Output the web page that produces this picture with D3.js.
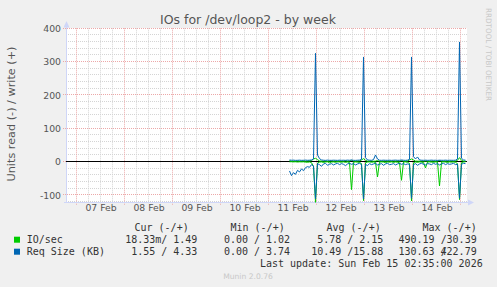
<!DOCTYPE html>
<html><head><meta charset="utf-8">
<script src="https://cdn.jsdelivr.net/npm/d3@7"></script>
<style>
html,body{margin:0;padding:0;background:#f0f0f0;}
svg{display:block}
text{white-space:pre}
</style>
</head><body>
<svg id="c" width="497" height="287"></svg>
<script>
// ---------- data ----------
const seriesStart = "2026-02-11T10:30:00Z";   // first sample (hourly samples)
const viewStart = "2026-02-06T19:00:00Z";
const viewEnd = "2026-02-15T03:00:00Z";
const firstDay = "2026-02-07T00:00:00Z";

// IO/sec read (drawn negative)
const ioRead = [0.5,0.3,0.8,0.4,1.2,0.6,0.9,0.5,1.5,2.0,1.0,3.0,15,
  122,
  4,1.5,0.8,2.5,1.0,0.6,3.5,1.2,0.8,2.0,0.5,1.0,1.8,0.7,2.2,1.0,3.0,84,2.0,0.8,1.5,2.5,6,
  117,
  3,1.2,0.8,2.0,1.0,2.5,46,1.5,0.8,1.2,3.0,0.9,1.6,0.7,2.4,1.0,1.8,3.5,56,1.2,0.8,2.0,5,
  118,
  3,1.0,2.2,0.8,1.5,2.8,19,1.2,0.7,1.6,2.0,0.9,1.4,73,1.8,0.6,1.2,2.5,0.8,1.6,1.0,2.2,6,
  114,
  3,1.0,0.5];
// IO/sec write (drawn positive)
const ioWrite = [3,1.2,1.5,1.0,1.8,1.2,1.4,2.0,1.1,1.6,2.5,3.0,8,
  10,
  6,2.0,1.5,1.2,1.8,1.0,1.4,2.2,1.3,1.5,1.1,1.9,1.2,1.6,2.4,1.3,1.5,4,1.6,1.2,1.8,2.0,5,
  9,
  4,1.5,1.3,1.8,1.2,1.6,3,1.4,1.2,1.7,1.3,1.5,1.9,1.1,1.6,1.4,1.8,1.2,3,1.5,1.3,1.7,5,
  8,
  5,1.6,1.4,1.2,1.8,1.3,2,1.5,1.2,1.6,1.4,1.3,1.7,3,1.5,1.2,1.6,1.4,1.3,1.8,1.2,1.5,4,
  12,
  4,1.6,1.5];
// Req Size read (drawn negative)
const sizeRead = [28,42,33,38,26,31,22,27,18,15,17,9,13,
  112,
  6,9,14,7,5,11,8,6,10,7,5,9,6,8,12,7,5,8,6,10,7,5,9,
  112,
  8,12,6,9,7,5,10,8,6,11,7,5,9,8,6,10,7,5,8,6,9,7,8,
  110,
  9,6,11,7,5,8,10,6,7,9,5,8,6,10,7,5,9,6,8,7,5,9,8,
  110,
  8,5,6];
// Req Size write (drawn positive)
const sizeWrite = [5,4.2,4.5,3.8,4.0,4.4,3.9,4.1,4.6,4.0,4.3,5,8,
  325,
  20,9,5,4.2,3.8,4.5,4.0,3.9,4.3,4.1,3.8,4.4,4.0,4.2,3.9,4.5,4.1,5,4.0,3.8,4.2,4.6,7,
  314,
  12,5,4.3,4.0,6,20,8,4.2,3.9,4.4,4.1,4.0,4.3,3.8,4.2,4.5,4.0,4.1,5,4.2,3.9,4.4,7,
  314,
  15,8,14,5,4.2,4.0,4.4,3.9,4.1,4.5,4.0,4.2,3.8,4.3,4.1,4.0,4.4,3.9,4.2,4.1,4.0,4.3,8,
  359,
  10,5,4.3];

const xLabels = ["07 Feb","08 Feb","09 Feb","10 Feb","11 Feb","12 Feb","13 Feb","14 Feb"];
const yTicks = [-100,0,100,200,300,400];
const yTickLabels = ["-100","0","100","200","300","400"];
const yMinorStep = 20;

const legendNames = ["IO/sec","Req Size (KB)"];
const legendColors = ["#00cc00","#0066b3"];
const legendHeaders = ["Cur (-/+)","Min (-/+)","Avg (-/+)","Max (-/+)"];
const legendCur = ["18.33m/ 1.49","1.55 / 4.33"];
const legendMin = ["0.00 / 1.02","0.00 / 3.74"];
const legendAvg = ["5.78 / 2.15","10.49 /15.88"];
const legendMax = ["490.19 /30.39","130.63 /422.79"];
const title = "IOs for /dev/loop2 - by week";
const yLabel = "Units read (-) / write (+)";
const lastUpdate = "Last update: Sun Feb 15 02:35:00 2026";
const footer = "Munin 2.0.76";
const sideText = "RRDTOOL / TOBI OETIKER";

// ---------- layout ----------
const svg = d3.select("#c");
const W = 497, H = 287;
const L = 66.5, R = 466.5, T = 28.3, B = 202.3;
const parse = d3.utcParse("%Y-%m-%dT%H:%M:%SZ");
const t0 = parse(viewStart), t1 = parse(viewEnd);
const x = d3.scaleUtc().domain([t0, t1]).range([L, R]);
const y = d3.scaleLinear().domain([-122, 400]).range([B, T]);
const crisp = v => Math.floor(v) + 0.5;

svg.append("rect").attr("width", W).attr("height", H).attr("fill", "#f0f0f0");
svg.append("rect").attr("x", 66).attr("y", 28).attr("width", 401).attr("height", 174).attr("fill", "#ffffff");

const grid = svg.append("g");
// horizontal minor
const yMinor = d3.range(-120, 401, yMinorStep).filter(v => !yTicks.includes(v));
grid.selectAll(".hm").data(yMinor).join("line")
  .attr("x1", 66).attr("x2", 467)
  .attr("y1", d => crisp(y(d))).attr("y2", d => crisp(y(d)))
  .attr("stroke", "#d4d4d4").attr("stroke-dasharray", "1,1");
// vertical minor (6 h)
const sixH = d3.utcHour.every(6).range(t0, t1).filter(d => d.getUTCHours() !== 0);
grid.selectAll(".vm").data(sixH).join("line")
  .attr("x1", d => crisp(x(d))).attr("x2", d => crisp(x(d)))
  .attr("y1", T).attr("y2", 204)
  .attr("stroke", "#d4d4d4").attr("stroke-dasharray", "1,1");
// horizontal major
grid.selectAll(".hM").data(yTicks).join("line")
  .attr("x1", 63).attr("x2", 467)
  .attr("y1", d => crisp(y(d))).attr("y2", d => crisp(y(d)))
  .attr("stroke", "#eca8a8").attr("stroke-dasharray", "1,1");
// vertical major (midnight)
const days = d3.utcDay.range(t0, t1).filter(d => d > t0);
grid.selectAll(".vM").data(days).join("line")
  .attr("x1", d => crisp(x(d))).attr("x2", d => crisp(x(d)))
  .attr("y1", T).attr("y2", 205)
  .attr("stroke", "#eca8a8").attr("stroke-dasharray", "1,1");

// axes lines with arrows
const axisCol = "#cfd6f8";
svg.append("line").attr("x1", 66.5).attr("x2", 66.5).attr("y1", 203).attr("y2", 24).attr("stroke", axisCol);
svg.append("path").attr("d", "M63.5,27.5 L69.5,27.5 L66.5,21 Z").attr("fill", axisCol);
svg.append("line").attr("x1", 64).attr("x2", 469).attr("y1", 202.5).attr("y2", 202.5).attr("stroke", axisCol);
svg.append("path").attr("d", "M468,199.5 L468,205.5 L474,202.5 Z").attr("fill", axisCol);

// zero line
svg.append("line").attr("x1", 66).attr("x2", 467).attr("y1", crisp(y(0))).attr("y2", crisp(y(0)))
  .attr("stroke", "#000000");

// series
const s0 = parse(seriesStart);
const times = ioRead.map((_, i) => d3.utcHour.offset(s0, i));
const line = d3.line().x((d, i) => x(times[i])).y(d => y(d));
const plot = svg.append("g").attr("fill", "none").attr("stroke-width", 1).attr("stroke-linejoin", "round");
plot.append("path").attr("d", line(ioRead.map(v => -v))).attr("stroke", legendColors[0]);
plot.append("path").attr("d", line(ioWrite)).attr("stroke", legendColors[0]);
plot.append("path").attr("d", line(sizeRead.map(v => -v))).attr("stroke", legendColors[1]);
plot.append("path").attr("d", line(sizeWrite)).attr("stroke", legendColors[1]);

// y tick labels
const yAx = svg.append("g").attr("transform", "translate(61,0)")
  .call(d3.axisLeft(y).tickValues(yTicks).tickSize(0).tickPadding(0)
    .tickFormat((d, i) => yTickLabels[i]));
yAx.select(".domain").remove();
yAx.selectAll("text").attr("font-family", "DejaVu Sans").attr("font-size", 9.3)
  .attr("fill", "#555").attr("dy", "0.36em");

// x tick labels (at noon)
const noon = xLabels.map((_, i) => d3.utcHour.offset(parse(firstDay), 12 + 24 * i));
const xAx = svg.append("g").attr("transform", "translate(0,204)")
  .call(d3.axisBottom(x).tickValues(noon).tickSize(0).tickPadding(0)
    .tickFormat((d, i) => xLabels[i]));
xAx.select(".domain").remove();
xAx.selectAll("text").attr("font-family", "DejaVu Sans").attr("font-size", 9.3)
  .attr("fill", "#555").attr("dy", "0.71em");

// title
svg.append("text").attr("x", 248).attr("y", 23.5).attr("text-anchor", "middle")
  .attr("font-family", "DejaVu Sans").attr("font-size", 12.5).attr("fill", "#555").text(title);
// y label
svg.append("text").attr("transform", "translate(14.5,114) rotate(-90)").attr("text-anchor", "middle")
  .attr("font-family", "DejaVu Sans").attr("font-size", 10.5).attr("fill", "#555")
  .attr("textLength", 135).attr("lengthAdjust", "spacingAndGlyphs").text(yLabel);
// side text
svg.append("text").attr("transform", "translate(485.5,8) rotate(90)")
  .attr("font-family", "DejaVu Sans").attr("font-size", 7.5).attr("fill", "#c8c8c8")
  .attr("textLength", 93).attr("lengthAdjust", "spacingAndGlyphs").text(sideText);

// legend
const mono = "DejaVu Sans Mono";
const lg = svg.append("g").attr("font-family", mono).attr("font-size", 10).attr("fill", "#333");
const colEnds = [197.3, 290, 383.3, 476.7];
const headEnds = [188.7, 284.7, 380.7, 476.7];
legendHeaders.forEach((h, k) => lg.append("text").attr("x", headEnds[k]).attr("y", 231).attr("text-anchor", "end").text(h));
const cols = [legendCur, legendMin, legendAvg, legendMax];
legendNames.forEach((n, r) => {
  const yy = 243.3 + r * 12;
  lg.append("rect").attr("x", 14).attr("y", yy - 6.6).attr("width", 6).attr("height", 6).attr("fill", legendColors[r]);
  lg.append("text").attr("x", 26.7).attr("y", yy).text(n);
  cols.forEach((c, k) => {
    const s = c[r];
    const p = s.indexOf("/");
    lg.append("text").attr("x", colEnds[k] - 30).attr("y", yy).attr("text-anchor", "end").text(s.slice(0, p + 1));
    lg.append("text").attr("x", colEnds[k]).attr("y", yy).attr("text-anchor", "end").text(s.slice(p + 1));
  });
});
lg.append("text").attr("x", 482.7).attr("y", 267).attr("text-anchor", "end").text(lastUpdate);
svg.append("text").attr("x", 248).attr("y", 279).attr("text-anchor", "middle")
  .attr("font-family", "DejaVu Sans").attr("font-size", 7.6).attr("fill", "#c8c8c8").text(footer);
</script>
</body></html>
